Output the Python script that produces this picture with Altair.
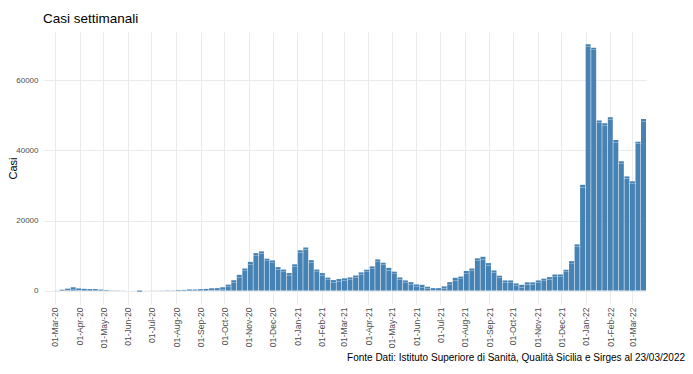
import altair as alt
import pandas as pd

# Weekly cases (Tuesdays) starting 18 Feb 2020
start_date = "2020-02-18"
casi = [
    0, 5, 40, 250, 550, 950, 620, 500, 430, 420, 280, 150, 90, 60, 40, 25, 20, -300, 15, 30,
    40, 60, 90, 130, 170, 200, 330, 300, 400, 480, 650, 700, 950, 1700, 2950, 4500, 6300,
    8200, 10700, 11200, 9100, 8600, 6700, 6000, 5000, 7500,
    11500, 12300, 8700, 6000, 5000, 3700, 3000, 3300, 3500, 3750, 4300, 5200, 5950, 6900,
    8900, 7950, 6500, 5400, 3750, 2900, 2400, 1750, 1650, 1100, 700, 700, 1200, 2400, 3650,
    4000, 5600, 6300, 9200, 9650, 7850, 5750, 4250, 2900, 2900, 2050, 1650, 2350, 2350,
    2900, 3400, 3850, 4600, 4600, 5950, 8400, 13200, 30200,
    70300, 69350, 48550, 47800, 49500, 43000, 36900, 32600, 31200, 42500, 49000,
]
y_ticks = [0, 20000, 40000, 60000]
title_text = "Casi settimanali"
caption_text = "Fonte Dati: Istituto Superiore di Sanità, Qualità Sicilia e Sirges al 23/03/2022"

dates = pd.date_range(start_date, periods=len(casi), freq="7D")
df = pd.DataFrame({
    "data": dates,
    "inizio": dates - pd.Timedelta(hours=75.6),
    "fine": dates + pd.Timedelta(hours=75.6),
    "casi": casi,
})
df["etichetta"] = df["casi"].astype(str)

FONT = "Liberation Sans"
W, H = 603, 272

x_scale = alt.Scale(
    domain=[alt.DateTime(year=2020, month=2, date=14, hours=20, minutes=24),
            alt.DateTime(year=2022, month=3, date=18, hours=3, minutes=36)],
    nice=False,
)
y_scale = alt.Scale(domain=[-3830, 73830], nice=False, zero=False)

base = alt.Chart(df)

bars = base.mark_bar(color="#4682b4").encode(
    x=alt.X("inizio:T", scale=x_scale, axis=alt.Axis(
        format="%d-%b-%y", tickCount={"interval": "month", "step": 1},
        labelAngle=270, labelFontSize=8.5, labelColor="#4d4d4d", labelFont=FONT,
        domain=False, ticks=False, labelPadding=3, title=None,
        gridColor="#ebebeb", gridWidth=1, labelOverlap=False, labelFlush=False)),
    x2="fine:T",
    y=alt.Y("casi:Q", scale=y_scale, axis=alt.Axis(
        values=y_ticks, format="d", title="Casi", titleFontSize=11,
        titleFont=FONT, titleFontWeight="normal", titleColor="black",
        titleAngle=270, titleBaseline="middle", titleAlign="center",
        titleX=-30, titleY=136,
        labelFontSize=8, labelColor="#4d4d4d", labelFont=FONT,
        domain=False, ticks=False, labelPadding=5,
        gridColor="#ebebeb", gridWidth=1)),
    y2=alt.datum(0),
)

labels = base.mark_text(fontSize=2.5, color="white", opacity=0.75, baseline="top", dy=1, font=FONT).encode(
    x=alt.X("data:T", scale=x_scale),
    y=alt.Y("casi:Q", scale=y_scale),
    text="etichetta:N",
)

caption = alt.Chart(pd.DataFrame({"t": [caption_text]})).mark_text(
    align="right", baseline="alphabetic", fontSize=10, font=FONT, color="black"
).encode(
    x=alt.value(642), y=alt.value(329), text="t:N"
)

chart = alt.layer(bars, labels, caption).properties(
    width=W, height=H,
    title=alt.Title(title_text, anchor="start", frame="group", fontSize=13.5,
                    fontWeight="normal", font=FONT, color="black", offset=7),
    padding={"left": 35, "top": 24, "right": 39, "bottom": 62},
    autosize=alt.AutoSizeParams(type="none"),
).configure_view(stroke=None)

chart.save("out.html", embed_options={"renderer": "svg", "actions": False})
